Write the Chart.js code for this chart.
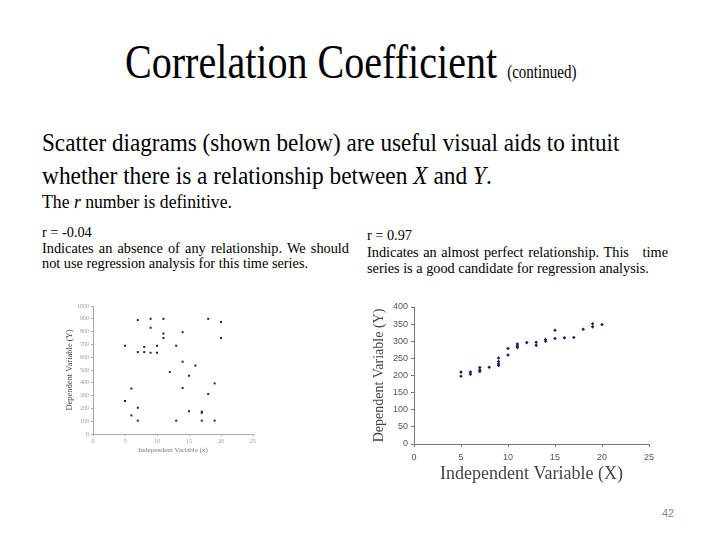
<!DOCTYPE html>
<html>
<head>
<meta charset="utf-8">
<script src="https://cdn.jsdelivr.net/npm/chart.js@4.4.1/dist/chart.umd.min.js"></script>
<style>
  body { margin: 0; background: #fff; }
  #slide { position: relative; width: 720px; height: 540px; overflow: hidden; font-family: "Liberation Serif", "Times New Roman", serif; color: #000; }
  .t { position: absolute; white-space: nowrap; transform-origin: 0 0; font-family: "Liberation Serif", "Times New Roman", serif; }
  .cap { position: absolute; font-size: 14.3px; line-height: 15.5px; font-family: "Liberation Serif", "Times New Roman", serif; }
  .j { text-align: justify; text-align-last: justify; white-space: nowrap; }
  canvas { position: absolute; }
</style>
</head>
<body>
<div id="slide">
  <div class="t" style="left:125px; top:34px; font-size:48px; transform:scaleX(0.835);">Correlation Coefficient <span style="font-size:18px;">(continued)</span></div>
  <div class="t" style="left:42px; top:129px; font-size:25px; transform:scaleX(0.925);">Scatter diagrams (shown below) are useful visual aids to intuit</div>
  <div class="t" style="left:42px; top:162px; font-size:25px; transform:scaleX(0.935);">whether there is a relationship between <i>X</i> and <i>Y</i>.</div>
  <div class="t" style="left:42px; top:191px; font-size:19px; transform:scaleX(0.93);">The <i>r</i> number is definitive.</div>

  <div class="cap" style="left:42px; top:225px; width:307px;">
    <div>r = -0.04</div>
    <div class="j">Indicates an absence of any relationship. We should</div>
    <div>not use regression analysis for this time series.</div>
  </div>
  <div class="cap" style="left:367px; top:227px; width:301px; line-height:16.5px;">
    <div>r = 0.97</div>
    <div class="j">Indicates an almost perfect relationship. This &nbsp; time</div>
    <div>series is a good candidate for regression analysis.</div>
  </div>

  <canvas id="leftChart" width="210" height="165" style="left:55px; top:295px; width:210px; height:165px;"></canvas>
  <canvas id="rightChart" width="295" height="190" style="left:365px; top:295px; width:295px; height:190px;"></canvas>

  <div class="t" style="left:662px; top:507px; font-size:11px; color:#888; font-family:'Liberation Sans', Arial, sans-serif;">42</div>
</div>

<script>
// left scatter: r = -0.04
const leftX = [7, 9, 11, 18, 20, 9, 11, 14, 11, 20, 5, 8, 10, 13, 7, 8, 9, 10, 14, 16, 12, 15, 19, 6, 14, 18, 5, 7, 6, 15, 17, 17, 7, 13, 17, 19];
const leftY = [890, 900, 900, 900, 875, 830, 785, 795, 750, 750, 690, 680, 690, 690, 640, 640, 635, 635, 565, 535, 485, 455, 395, 355, 360, 312, 257, 205, 145, 177, 175, 165, 104, 104, 104, 104];

// right scatter: r = 0.97
const rightX = [5, 5, 6, 6, 7, 7, 7, 8, 9, 9, 9, 9, 10, 10, 11, 11, 11, 12, 13, 13, 14, 14, 15, 15, 16, 17, 18, 19, 19, 20];
const rightY = [210, 198, 210, 204, 223, 216, 212, 224, 251, 241, 234, 229, 279, 260, 292, 286, 282, 296, 297, 288, 305, 300, 332, 308, 310, 311, 335, 351, 342, 349];

const xTicks = [0, 5, 10, 15, 20, 25];

function pairs(xs, ys) {
    return xs.map((x, i) => ({ x: x, y: ys[i] }));
}

let leftChart = new Chart(document.getElementById('leftChart'), {
    type: 'scatter',
    data: {
        datasets: [{
            data: pairs(leftX, leftY),
            pointStyle: 'rect',
            pointRadius: 1.4,
            backgroundColor: '#222',
            borderWidth: 0
        }]
    },
    options: {
        responsive: false,
        animation: false,
        devicePixelRatio: 1,
        layout: { padding: { top: 11, right: 12, left: 0, bottom: 0 } },
        plugins: { legend: { display: false }, tooltip: { enabled: false } },
        scales: {
            x: {
                min: 0, max: 25,
                afterFit: s => { s.height = 26; },
                afterBuildTicks: s => { s.ticks = xTicks.map(v => ({ value: v })); },
                grid: { drawOnChartArea: false, tickLength: 2, color: '#aaa' },
                border: { color: '#aaa' },
                ticks: { autoSkip: false, maxRotation: 0, color: '#999', font: { size: 6, family: 'Liberation Serif' }, padding: 2 },
                title: { display: true, text: 'Independent Variable (x)', color: '#777', font: { size: 7, family: 'Liberation Serif' }, padding: { top: 0, bottom: 6 } }
            },
            y: {
                min: 0, max: 1000,
                afterFit: s => { s.width = 38; },
                ticks: { stepSize: 100, autoSkip: false, color: '#999', font: { size: 6, family: 'Liberation Serif' }, padding: 2, callback: v => String(v) },
                grid: { drawOnChartArea: false, tickLength: 2, color: '#aaa' },
                border: { color: '#aaa' },
                title: { display: true, text: 'Dependent Variable (Y)', color: '#444', font: { size: 8.5, family: 'Liberation Serif' }, padding: { top: 10, bottom: 0 } }
            }
        }
    }
});

let rightChart = new Chart(document.getElementById('rightChart'), {
    type: 'scatter',
    data: {
        datasets: [{
            data: pairs(rightX, rightY),
            pointStyle: 'rectRot',
            pointRadius: 1.8,
            backgroundColor: '#1c1c5e',
            borderWidth: 0
        }]
    },
    options: {
        responsive: false,
        animation: false,
        devicePixelRatio: 1,
        layout: { padding: { top: 12, right: 11, left: 0, bottom: 0 } },
        plugins: { legend: { display: false }, tooltip: { enabled: false } },
        scales: {
            x: {
                min: 0, max: 25,
                afterFit: s => { s.height = 41; },
                afterBuildTicks: s => { s.ticks = xTicks.map(v => ({ value: v })); },
                grid: { drawOnChartArea: false, tickLength: 3, color: '#777' },
                border: { color: '#777' },
                ticks: { autoSkip: false, maxRotation: 0, color: '#555', font: { size: 9, family: 'Liberation Sans' }, padding: 5 },
                title: { display: true, text: 'Independent Variable (X)', color: '#444', font: { size: 18, family: 'Liberation Serif' }, padding: { top: 0, bottom: 0 } }
            },
            y: {
                min: 0, max: 400,
                afterFit: s => { s.width = 49; },
                ticks: { stepSize: 50, autoSkip: false, color: '#555', font: { size: 9, family: 'Liberation Sans' }, padding: 3 },
                grid: { drawOnChartArea: false, tickLength: 3, color: '#777' },
                border: { color: '#777' },
                title: { display: true, text: 'Dependent Variable (Y)', color: '#444', font: { size: 14, family: 'Liberation Serif' }, padding: { top: 6, bottom: 0 } }
            }
        }
    }
});
</script>
</body>
</html>
